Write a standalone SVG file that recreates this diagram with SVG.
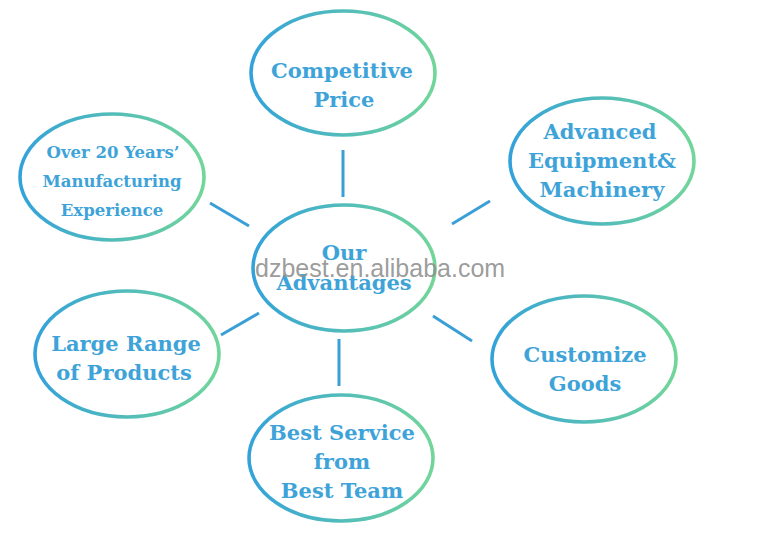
<svg xmlns="http://www.w3.org/2000/svg" width="760" height="534" viewBox="0 0 760 534">
<defs>
<linearGradient id="g" x1="0" y1="0" x2="1" y2="0">
<stop offset="0" stop-color="#33a2da"/>
<stop offset="1" stop-color="#72d69a"/>
</linearGradient>
</defs>
<style>
.n ellipse{fill:#fff;stroke:url(#g);stroke-width:3.6}
.t{font-family:"DejaVu Serif","Liberation Serif",serif;font-weight:bold;fill:#3ea3d8;text-anchor:middle;font-size:21px}
.s{font-size:16.5px}
.c line{stroke:#3a9fd6;stroke-width:3}
.w{font-family:"Liberation Sans",Arial,sans-serif;font-size:25px;fill:#8f8f8f;fill-opacity:0.9}
</style>
<rect width="760" height="534" fill="#fff"/>
<g class="c" id="connectors">
<line x1="343" y1="150" x2="343" y2="197"/>
<line x1="339" y1="339" x2="339" y2="386"/>
<line x1="210" y1="203" x2="249" y2="226"/>
<line x1="452" y1="224" x2="490" y2="201"/>
<line x1="221" y1="335" x2="259" y2="313"/>
<line x1="433" y1="316" x2="472" y2="341"/>
</g>
<g class="n" id="price">
<ellipse cx="343" cy="73" rx="92" ry="62"/>
<text class="t" x="342" y="78">Competitive</text>
<text class="t" x="344" y="107">Price</text>
</g>
<g class="n" id="equipment">
<ellipse cx="602" cy="161" rx="92" ry="63"/>
<text class="t" x="600" y="139">Advanced</text>
<text class="t" x="602" y="168">Equipment&amp;</text>
<text class="t" x="602" y="197">Machinery</text>
</g>
<g class="n" id="experience">
<ellipse cx="112" cy="177" rx="92" ry="63"/>
<text class="t s" x="113" y="158">Over 20 Years’</text>
<text class="t s" x="112" y="187">Manufacturing</text>
<text class="t s" x="112" y="216">Experience</text>
</g>
<g class="n" id="advantages">
<ellipse cx="344" cy="268" rx="91" ry="63"/>
<text class="t" x="344" y="260">Our</text>
<text class="t" x="344" y="290">Advantages</text>
</g>
<g class="n" id="range">
<ellipse cx="127" cy="354" rx="92" ry="63"/>
<text class="t" x="126" y="351">Large Range</text>
<text class="t" x="124" y="380">of Products</text>
</g>
<g class="n" id="customize">
<ellipse cx="584" cy="359" rx="92" ry="63"/>
<text class="t" x="585" y="362">Customize</text>
<text class="t" x="585" y="391">Goods</text>
</g>
<g class="n" id="service">
<ellipse cx="341" cy="458" rx="92" ry="63"/>
<text class="t" x="342" y="440">Best Service</text>
<text class="t" x="342" y="469">from</text>
<text class="t" x="342" y="498">Best Team</text>
</g>
<text class="w" x="255" y="277">dzbest.en.alibaba.com</text>
</svg>
